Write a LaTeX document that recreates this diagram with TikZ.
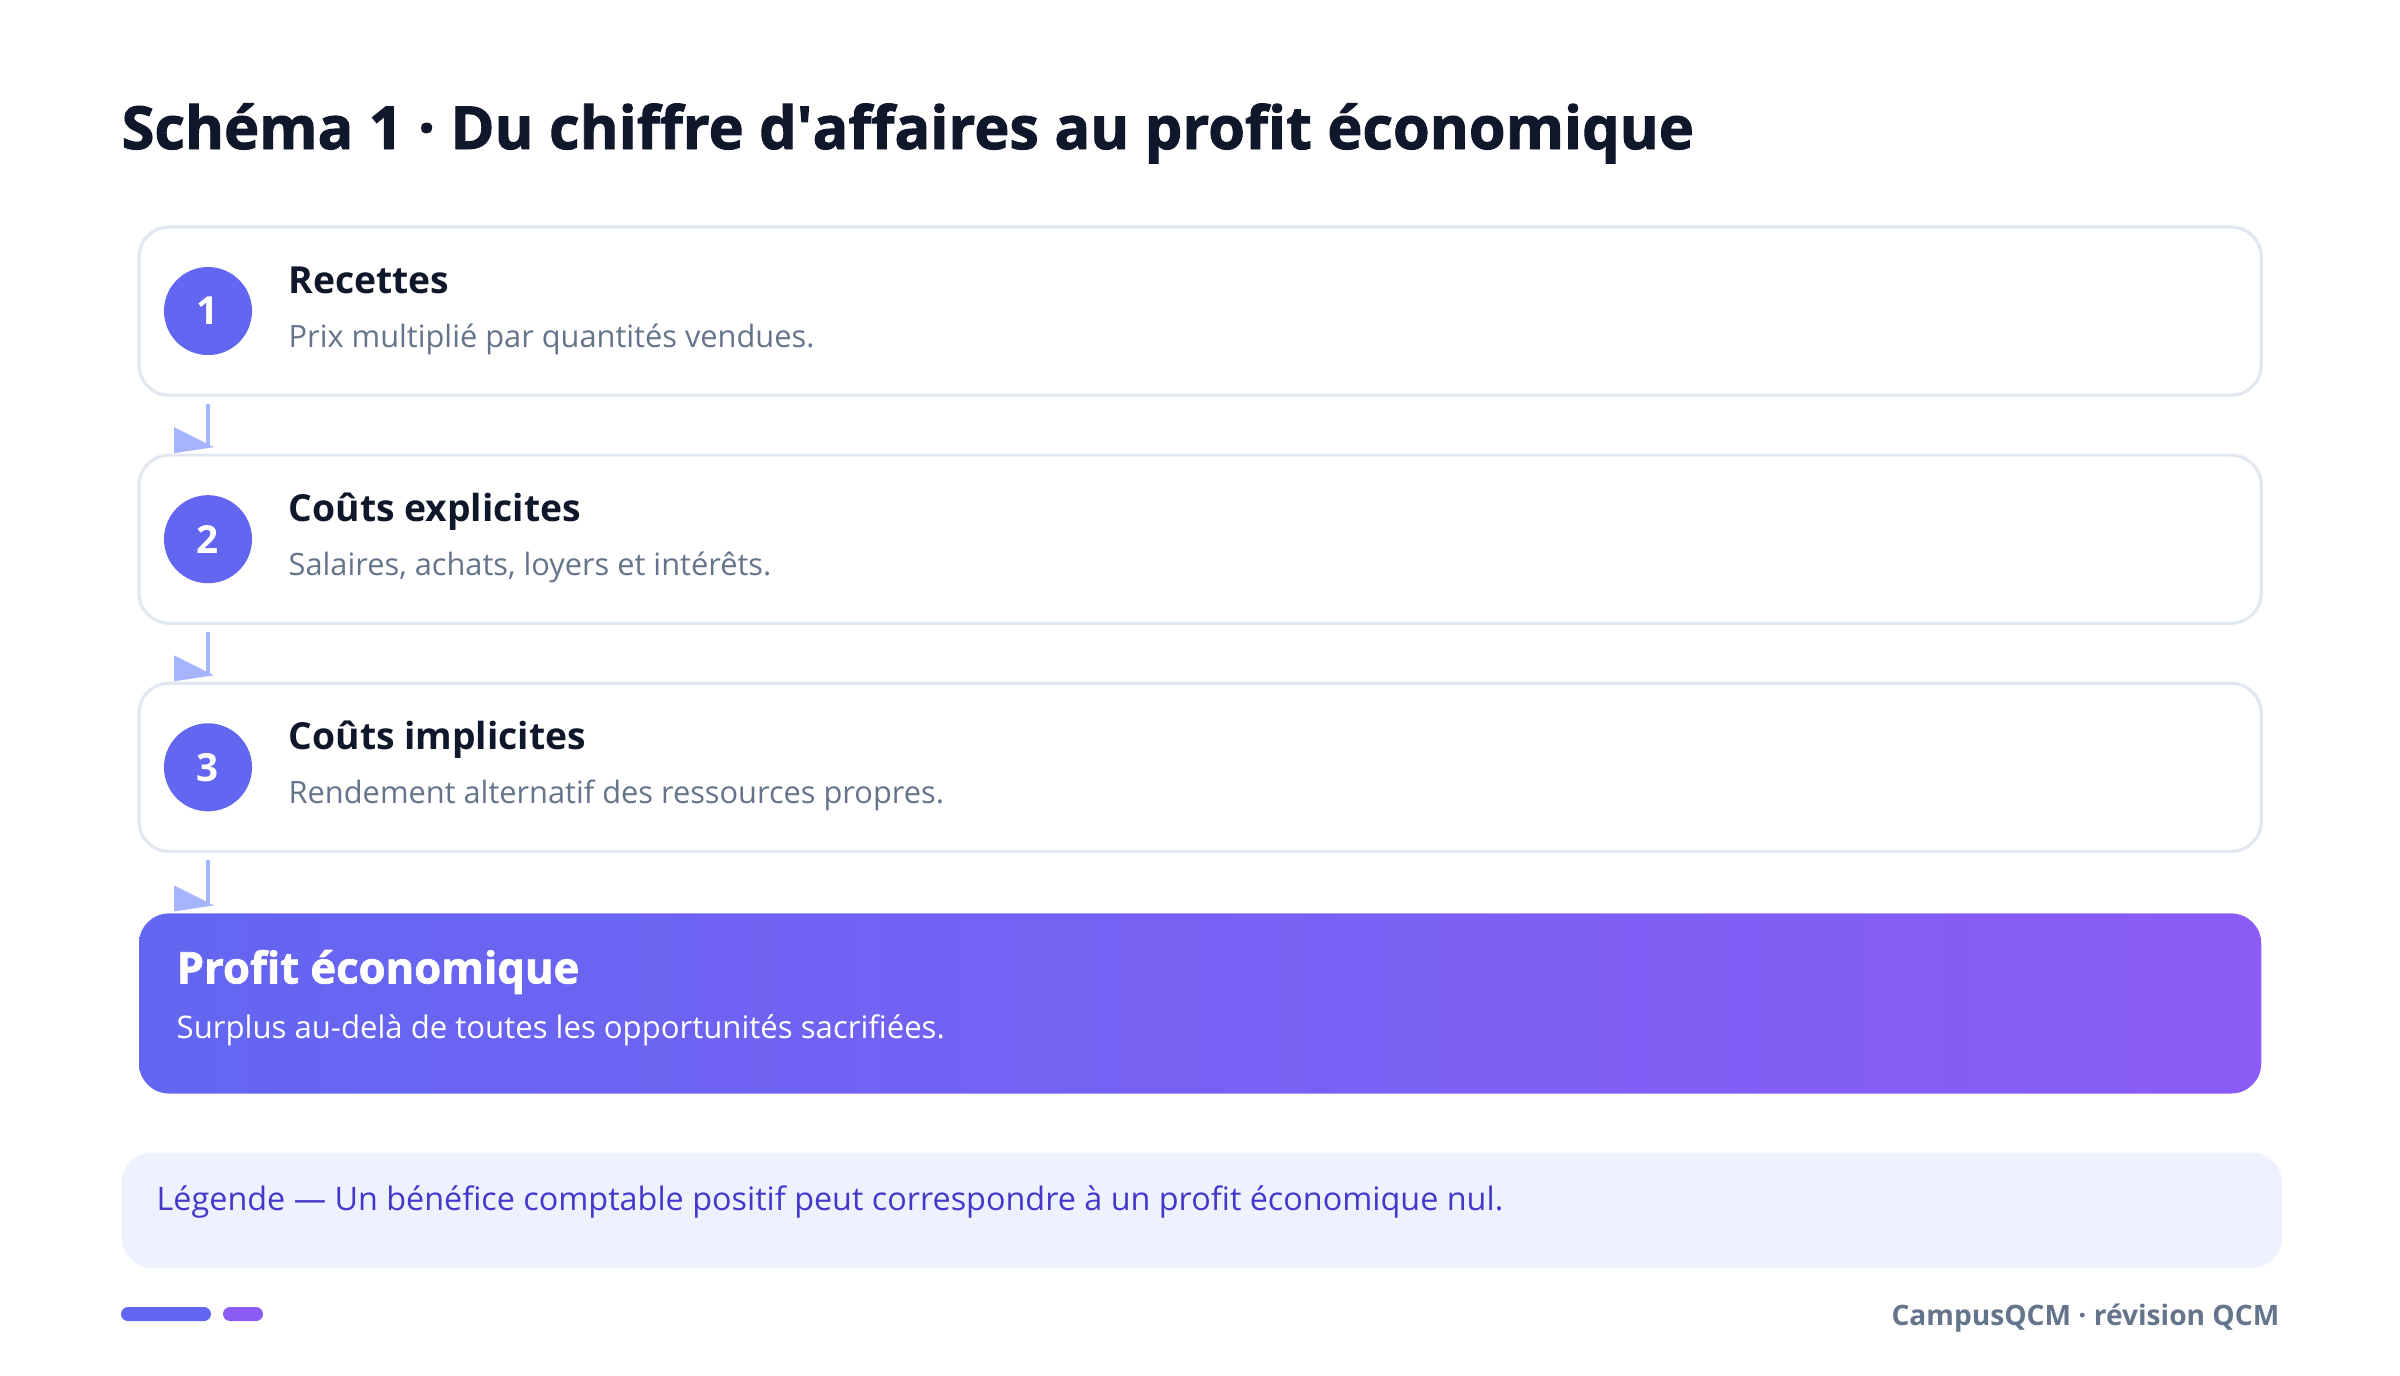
\documentclass[tikz,border=0pt]{standalone}
\usepackage{fontspec}
\setmainfont{Open Sans}
\newfontfamily\heavyfont{Open Sans}[BoldFeatures={FakeBold=1.6}]
\usetikzlibrary{positioning,calc}
\definecolor{ink}{HTML}{0F172A}
\definecolor{muted}{HTML}{64748B}
\definecolor{edge}{HTML}{E2E8F0}
\definecolor{indigo}{HTML}{6366F1}
\definecolor{violet}{HTML}{8B5CF6}
\definecolor{flowc}{HTML}{A5B4FC}
\definecolor{legbg}{HTML}{EEF2FF}
\definecolor{legtxt}{HTML}{4338CA}
\begin{document}
\begin{tikzpicture}[x=0.01cm, y=-0.01cm, node distance=0.6cm,
  stepbox/.style={draw=edge, line width=0.9pt, fill=white, rounded corners=0.3cm, minimum width=21.21cm, minimum height=1.68cm, inner sep=0, outer sep=0},
  num/.style={circle, fill=indigo, text=white, minimum size=0.88cm, inner sep=0, font=\bfseries\fontsize{11}{11}\selectfont},
  head/.style={anchor=base west, inner sep=0, text=ink, font=\bfseries\fontsize{10.6}{12}\selectfont},
  sub/.style={anchor=base west, inner sep=0, text=muted, font=\fontsize{8.75}{10}\selectfont},
  flow/.style={draw=flowc, line width=1.2pt}]
  \fill[white] (0,0) rectangle (2400,1375);
  \useasboundingbox (0,0) rectangle (2400,1375);

  \node[anchor=base west, inner sep=0, text=ink, font=\heavyfont\bfseries\fontsize{16.9}{20}\selectfont] (title) at (121,149) {Schéma 1 · Du chiffre d\textquotesingle affaires au profit économique};

  % etapes
  \node[stepbox, anchor=north west] (s1) at (139,227) {};
  \node[stepbox, below=of s1] (s2) {};
  \node[stepbox, below=of s2] (s3) {};
  \node[stepbox, below=0.62cm of s3, draw=none, left color=indigo, right color=violet, minimum height=1.8cm] (s4) {};

  \node[num] (c1) at ($(s1.west)+(69,0)$) {1};
  \node[num] (c2) at ($(s2.west)+(69,0)$) {2};
  \node[num] (c3) at ($(s3.west)+(69,0)$) {3};

  \node[head] (h1) at ($(s1.north west)+(149,66)$) {Recettes};
  \node[sub] (d1) at ($(s1.north west)+(149,120)$) {Prix multiplié par quantités vendues.};
  \node[head] (h2) at ($(s2.north west)+(149,66)$) {Coûts explicites};
  \node[sub] (d2) at ($(s2.north west)+(149,120)$) {Salaires, achats, loyers et intérêts.};
  \node[head] (h3) at ($(s3.north west)+(149,66)$) {Coûts implicites};
  \node[sub] (d3) at ($(s3.north west)+(149,120)$) {Rendement alternatif des ressources propres.};
  \node[head, text=white, font=\heavyfont\bfseries\fontsize{12.4}{14}\selectfont] (h4) at ($(s4.north west)+(37,70)$) {Profit économique};
  \node[sub, text=white, font=\fontsize{8.85}{10}\selectfont] (d4) at ($(s4.north west)+(37,125)$) {Surplus au-delà de toutes les opportunités sacrifiées.};

  \foreach \a/\b in {1/2,2/3,3/4} {
    \draw[flow] ($(s\a.south -| c1)+(0,9)$) -- ($(s\b.north -| c1)+(0,-8)$) coordinate (t\a);
    \fill[flowc] (t\a) ++(6,0) -- ++(-40,-20) -- ++(0,26) -- cycle;
  }

  % legende
  \node[fill=legbg, rounded corners=0.3cm, minimum width=21.59cm, minimum height=1.15cm, inner sep=0, anchor=north west] (leg) at (121,1152) {};
  \node[anchor=base west, inner sep=0, text=legtxt, font=\fontsize{9.2}{11}\selectfont] (legt) at ($(leg.north west)+(35,58)$) {Légende — Un bénéfice comptable positif peut correspondre à un profit économique nul.};

  % pied
  \fill[indigo, rounded corners=0.07cm] (121,1307) rectangle (211,1321);
  \fill[violet, rounded corners=0.07cm] (223,1307) rectangle (263,1321);
  \node[anchor=base east, inner sep=0, text=muted, font=\bfseries\fontsize{8}{10}\selectfont] (foot) at (2280,1325) {CampusQCM · révision QCM};
\end{tikzpicture}
\end{document}
